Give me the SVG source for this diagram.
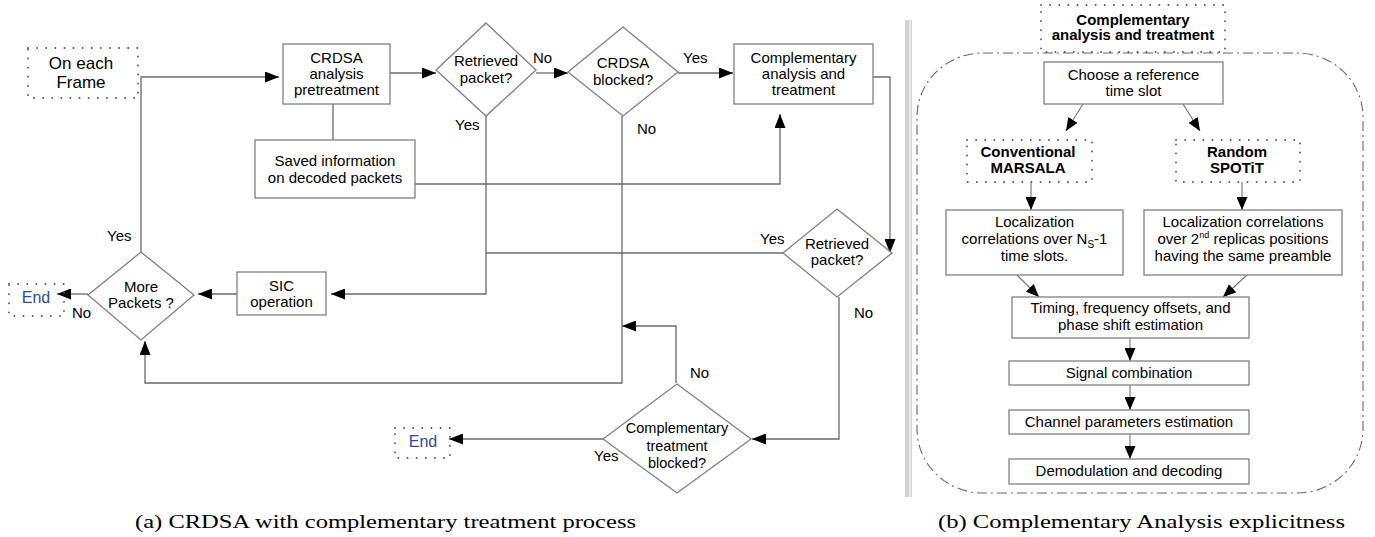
<svg xmlns="http://www.w3.org/2000/svg" width="1375" height="537" viewBox="0 0 1375 537">
<defs>
<marker id="ah" markerUnits="userSpaceOnUse" markerWidth="14" markerHeight="11" refX="14" refY="5.5" orient="auto">
<path d="M0,0 L14,5.5 L0,11 z" fill="#000"/>
</marker>
<marker id="ah2" markerUnits="userSpaceOnUse" markerWidth="13" markerHeight="11" refX="13" refY="5.5" orient="auto">
<path d="M0,0 L13,5.5 L0,11 z" fill="#000"/>
</marker>
</defs>
<style>
.box{fill:#fff;stroke:#808080;stroke-width:1.3}
.dot{fill:none;stroke:#555;stroke-width:1.8;stroke-dasharray:0.1 9;stroke-linecap:round}
.ln{fill:none;stroke:#6a6a6a;stroke-width:1.3}
.lnr{fill:none;stroke:#707070;stroke-width:1.1}
.t{font-family:"Liberation Sans",Arial,sans-serif;font-size:15px;fill:#000;text-anchor:middle}
.tb{font-family:"Liberation Sans",Arial,sans-serif;font-size:15px;font-weight:bold;fill:#000;text-anchor:middle}
.tl{font-family:"Liberation Sans",Arial,sans-serif;font-size:15px;fill:#000}
.end{font-family:"Liberation Sans",Arial,sans-serif;font-size:16px;fill:#2e4a9e;text-anchor:middle}
.cap{font-family:"Liberation Serif","Times New Roman",serif;font-size:19px;fill:#000}
</style>
<rect width="1375" height="537" fill="#fff"/>

<g id="connectors">
<path class="ln" d="M141,252 V77 H279" marker-end="url(#ah)"/>
<path class="ln" d="M390,73 H436" marker-end="url(#ah)"/>
<path class="ln" d="M333,104 V140"/>
<path class="ln" d="M415,184 H780 V114" marker-end="url(#ah)"/>
<path class="ln" d="M536,73 H568" marker-end="url(#ah)"/>
<path class="ln" d="M678,73 H733" marker-end="url(#ah)"/>
<path class="ln" d="M486,116 V294 H331" marker-end="url(#ah)"/>
<path class="ln" d="M237,294 H198" marker-end="url(#ah)"/>
<path class="ln" d="M88,294 H57" marker-end="url(#ah)"/>
<path class="ln" d="M622,116 V383 H145 V341" marker-end="url(#ah)"/>
<path class="ln" d="M873,77 H890 V253" marker-end="url(#ah)"/>
<path class="ln" d="M783,253 H486"/>
<path class="ln" d="M839,297 V439 H752" marker-end="url(#ah)"/>
<path class="ln" d="M676,383 V326 H622" marker-end="url(#ah)"/>
<path class="ln" d="M603,439 H449" marker-end="url(#ah)"/>

<path class="lnr" d="M1083,104 L1066,131" marker-end="url(#ah2)"/>
<path class="lnr" d="M1183,104 L1200,131" marker-end="url(#ah2)"/>
<path class="lnr" d="M1031,182 V210" marker-end="url(#ah2)"/>
<path class="lnr" d="M1242,182 V210" marker-end="url(#ah2)"/>
<path class="lnr" d="M1017,275 L1039,297" marker-end="url(#ah2)"/>
<path class="lnr" d="M1247,275 L1223,297" marker-end="url(#ah2)"/>
<path class="lnr" d="M1130,338 V361" marker-end="url(#ah2)"/>
<path class="lnr" d="M1130,385 V410" marker-end="url(#ah2)"/>
<path class="lnr" d="M1130,434 V459" marker-end="url(#ah2)"/>
</g>

<g id="labels">
<text class="tl" x="533" y="63">No</text>
<text class="tl" x="683" y="63">Yes</text>
<text class="tl" x="455" y="130">Yes</text>
<text class="tl" x="637" y="134">No</text>
<text class="tl" x="107" y="241">Yes</text>
<text class="tl" x="72" y="318">No</text>
<text class="tl" x="760" y="244">Yes</text>
<text class="tl" x="854" y="318">No</text>
<text class="tl" x="690" y="378">No</text>
<text class="tl" x="594" y="461">Yes</text>
</g>

<g id="on-each-frame">
<rect class="dot" x="28" y="48" width="110" height="50"/>
<text class="t" style="font-size:17px" x="81" y="69">On each</text>
<text class="t" style="font-size:17px" x="81" y="88">Frame</text>
</g>

<g id="crdsa-pretreatment">
<rect class="box" x="283" y="44" width="107" height="60"/>
<text class="t" x="336.5" y="63">CRDSA</text>
<text class="t" x="336.5" y="79">analysis</text>
<text class="t" x="336.5" y="95">pretreatment</text>
</g>

<g id="saved-info">
<rect class="box" x="255" y="140" width="160" height="58"/>
<text class="t" x="335" y="166">Saved information</text>
<text class="t" x="335" y="183">on decoded packets</text>
</g>

<g id="retrieved-1">
<path class="box" d="M486,23 L536,70 L486,116 L436,70 z"/>
<text class="t" x="486" y="66">Retrieved</text>
<text class="t" x="486" y="83">packet?</text>
</g>

<g id="crdsa-blocked">
<path class="box" d="M623,27 L678,72 L623,116 L568,72 z"/>
<text class="t" x="623" y="68">CRDSA</text>
<text class="t" x="623" y="85">blocked?</text>
</g>

<g id="complementary-box">
<rect class="box" x="734" y="44" width="139" height="60"/>
<text class="t" x="803.5" y="63">Complementary</text>
<text class="t" x="803.5" y="79">analysis and</text>
<text class="t" x="803.5" y="95">treatment</text>
</g>

<g id="retrieved-2">
<path class="box" d="M837,209 L892,253 L837,297 L783,253 z"/>
<text class="t" x="837" y="249">Retrieved</text>
<text class="t" x="837" y="265">packet?</text>
</g>

<g id="more-packets">
<path class="box" d="M141,252 L194,295 L141,340 L88,295 z"/>
<text class="t" x="141" y="292">More</text>
<text class="t" x="141" y="308">Packets ?</text>
</g>

<g id="sic">
<rect class="box" x="237" y="272" width="89" height="43"/>
<text class="t" x="281.5" y="291">SIC</text>
<text class="t" x="281.5" y="307">operation</text>
</g>

<g id="end-1">
<rect class="dot" x="9" y="284" width="55" height="32"/>
<text class="end" x="36" y="303">End</text>
</g>

<g id="comp-blocked">
<path class="box" d="M677,384 L751,439 L677,493 L603,439 z"/>
<text class="t" style="font-size:14.5px" x="677" y="433">Complementary</text>
<text class="t" style="font-size:14.5px" x="677" y="451">treatment</text>
<text class="t" style="font-size:14.5px" x="677" y="468">blocked?</text>
</g>

<g id="end-2">
<rect class="dot" x="395" y="428" width="55" height="30"/>
<text class="end" x="423" y="447">End</text>
</g>

<g id="separator">
<rect x="905" y="20" width="7" height="477" fill="#d2d2d2"/>
<rect x="909" y="20" width="2" height="477" fill="#e8e8e8"/>
</g>

<g id="container">
<rect x="917" y="53" width="446" height="440" rx="66" ry="64" fill="none" stroke="#666" stroke-width="1.1" stroke-dasharray="10 4 2 4"/>
</g>

<g id="title">
<rect class="dot" x="1041" y="5" width="184" height="47"/>
<text class="tb" x="1133" y="25">Complementary</text>
<text class="tb" x="1133" y="40">analysis and treatment</text>
</g>

<g id="choose">
<rect class="box" x="1044" y="62" width="179" height="42"/>
<text class="t" x="1133.5" y="80">Choose a reference</text>
<text class="t" x="1133.5" y="96">time slot</text>
</g>

<g id="conventional">
<rect class="dot" x="967" y="140" width="125" height="42"/>
<text class="tb" x="1028" y="157">Conventional</text>
<text class="tb" x="1028" y="173">MARSALA</text>
</g>

<g id="random">
<rect class="dot" x="1176" y="140" width="124" height="42"/>
<text class="tb" x="1237" y="157">Random</text>
<text class="tb" x="1237" y="173">SPOTiT</text>
</g>

<g id="loc-left">
<rect class="box" x="946" y="210" width="177" height="65"/>
<text class="t" x="1034.5" y="227">Localization</text>
<text class="t" x="1034.5" y="244">correlations over N<tspan font-size="10" dy="4">S</tspan><tspan dy="-4">-1</tspan></text>
<text class="t" x="1034.5" y="261">time slots.</text>
</g>

<g id="loc-right">
<rect class="box" x="1144" y="210" width="198" height="65"/>
<text class="t" x="1243" y="227">Localization correlations</text>
<text class="t" x="1243" y="244">over 2<tspan font-size="9" dy="-6">nd</tspan><tspan dy="6"> replicas positions</tspan></text>
<text class="t" x="1243" y="261">having the same preamble</text>
</g>

<g id="timing">
<rect class="box" x="1012" y="297" width="237" height="41"/>
<text class="t" x="1130.5" y="313">Timing, frequency offsets, and</text>
<text class="t" x="1130.5" y="330">phase shift estimation</text>
</g>

<g id="signal">
<rect class="box" x="1009" y="361" width="240" height="24"/>
<text class="t" x="1129" y="378">Signal combination</text>
</g>

<g id="channel">
<rect class="box" x="1009" y="410" width="240" height="24"/>
<text class="t" x="1129" y="427">Channel parameters estimation</text>
</g>

<g id="demod">
<rect class="box" x="1009" y="459" width="240" height="25"/>
<text class="t" x="1129" y="476">Demodulation and decoding</text>
</g>

<g id="captions">
<text class="cap" x="135" y="528" textLength="501" lengthAdjust="spacingAndGlyphs">(a) CRDSA with complementary treatment process</text>
<text class="cap" x="938" y="528" textLength="407" lengthAdjust="spacingAndGlyphs">(b) Complementary Analysis explicitness</text>
</g>
</svg>
